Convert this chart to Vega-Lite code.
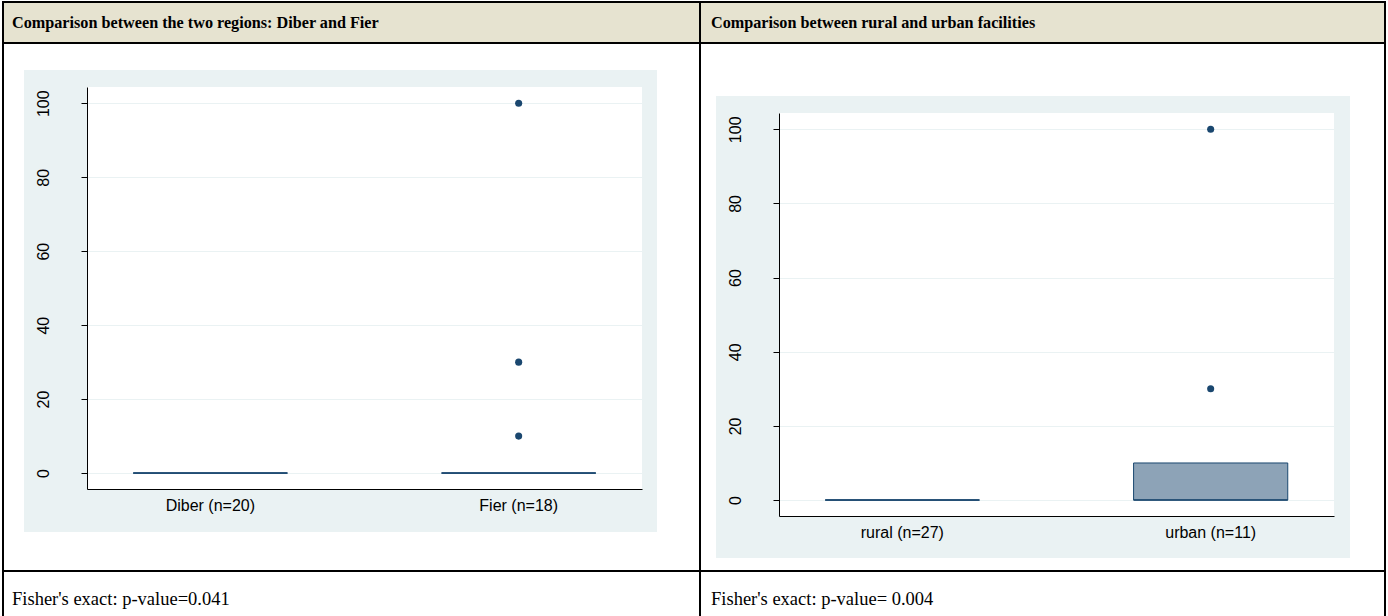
{
  "$schema": "https://vega.github.io/schema/vega-lite/v6.json",
  "background": "#EAF2F3",
  "padding": 0,
  "autosize": {"type": "pad"},
  "config": {
    "view": {"stroke": null},
    "concat": {"spacing": 0}
  },
  "datasets": {
    "one": [{"k": 1}],
    "texts": [
      {"cell": "headL", "text": "Comparison between the two regions: Diber and Fier"},
      {"cell": "headR", "text": "Comparison between rural and urban facilities"},
      {"cell": "footL", "text": "Fisher's exact: p-value=0.041"},
      {"cell": "footR", "text": "Fisher's exact: p-value= 0.004"}
    ],
    "boxes": [
      {"panel": "L", "group": "Diber (n=20)", "lower": 0, "q1": 0, "median": 0, "q3": 0, "upper": 0},
      {"panel": "L", "group": "Fier (n=18)", "lower": 0, "q1": 0, "median": 0, "q3": 0, "upper": 0},
      {"panel": "R", "group": "rural (n=27)", "lower": 0, "q1": 0, "median": 0, "q3": 0, "upper": 0},
      {"panel": "R", "group": "urban (n=11)", "lower": 0, "q1": 0, "median": 0, "q3": 10, "upper": 10}
    ],
    "outliers": [
      {"panel": "L", "group": "Fier (n=18)", "value": 10},
      {"panel": "L", "group": "Fier (n=18)", "value": 30},
      {"panel": "L", "group": "Fier (n=18)", "value": 100},
      {"panel": "R", "group": "urban (n=11)", "value": 30},
      {"panel": "R", "group": "urban (n=11)", "value": 100}
    ]
  },
  "spacing": 0,
  "hconcat": [
    {"width": 2, "height": 616, "data": {"name": "one"}, "mark": {"type": "rect", "color": "#FFFFFF"}, "encoding": {}},
    {"spacing": 0, "vconcat": [
      {"width": 2, "height": 1, "data": {"name": "one"}, "mark": {"type": "rect", "color": "#FFFFFF"}, "encoding": {}},
      {"width": 2, "height": 615, "data": {"name": "one"}, "mark": {"type": "rect", "color": "#000000"}, "encoding": {}}
    ]},
    {"spacing": 0, "vconcat": [
      {"width": 695, "height": 1, "data": {"name": "one"}, "mark": {"type": "rect", "color": "#FFFFFF"}, "encoding": {}},
      {"width": 695, "height": 2, "data": {"name": "one"}, "mark": {"type": "rect", "color": "#000000"}, "encoding": {}},
      {"width": 695, "height": 39, "view": {"fill": "#E6E3D0"}, "data": {"name": "texts"},
       "transform": [{"filter": "datum.cell == 'headL'"}],
       "mark": {"type": "text", "align": "left", "baseline": "middle", "font": "Liberation Serif", "fontSize": 16.2, "fontWeight": "bold", "color": "#000000"},
       "encoding": {
         "text": {"field": "text", "type": "nominal"},
         "x": {"field": "cell", "type": "nominal", "axis": null, "bandPosition": 0, "scale": {"type": "band", "paddingInner": 0, "paddingOuter": 0.01178}}
       }},
      {"width": 695, "height": 2, "data": {"name": "one"}, "mark": {"type": "rect", "color": "#000000"}, "encoding": {}},
      {"spacing": 0, "vconcat": [
        {"width": 695, "height": 26, "data": {"name": "one"}, "mark": {"type": "rect", "color": "#FFFFFF"}, "encoding": {}},
        {"spacing": 0, "hconcat": [
          {"width": 20, "height": 462, "data": {"name": "one"}, "mark": {"type": "rect", "color": "#FFFFFF"}, "encoding": {}},
          {"columns": 3, "bounds": "flush", "spacing": 0, "concat": [
            {"width": 63, "height": 17, "data": {"name": "one"}, "mark": {"type": "rect", "opacity": 0}, "encoding": {}},
            {"width": 555, "height": 17, "data": {"name": "one"}, "mark": {"type": "rect", "opacity": 0}, "encoding": {}},
            {"width": 15, "height": 17, "data": {"name": "one"}, "mark": {"type": "rect", "opacity": 0}, "encoding": {}},
            {"width": 63, "height": 402, "data": {"name": "one"}, "mark": {"type": "rect", "opacity": 0}, "encoding": {}},
            {"width": 555, "height": 402, "view": {"fill": "#FFFFFF"},
             "layer": [
               {"data": {"name": "boxes"}, "transform": [{"filter": "datum.panel == 'L'"}],
                "mark": {"type": "rule", "color": "#1A476F", "strokeWidth": 1},
                "encoding": {
                  "x": {"field": "group", "type": "nominal", "title": null,
                        "scale": {"type": "band", "domain": ["Diber (n=20)", "Fier (n=18)"], "paddingInner": 0.5, "paddingOuter": 0.15},
                        "axis": {"ticks": false, "tickSize": 0, "labelPadding": 8, "labelAngle": 0, "grid": false, "domainColor": "#000000", "domainWidth": 1, "labelFont": "Liberation Sans", "labelFontSize": 16, "labelColor": "#000000"}},
                  "y": {"field": "q3", "type": "quantitative", "title": null,
                        "scale": {"domain": [-4.3, 104.4], "nice": false, "zero": false},
                        "axis": {"values": [0, 20, 40, 60, 80, 100], "labelAngle": -90, "labelAlign": "center", "labelBaseline": "bottom", "labelPadding": 30, "tickSize": 6, "tickWidth": 1, "tickColor": "#000000", "domainColor": "#000000", "domainWidth": 1, "grid": true, "gridColor": "#EAF2F3", "gridWidth": 1, "labelFont": "Liberation Sans", "labelFontSize": 16, "labelColor": "#000000", "labelOverlap": false, "labelFlush": false}},
                  "y2": {"field": "upper"}
                }},
               {"data": {"name": "boxes"}, "transform": [{"filter": "datum.panel == 'L'"}],
                "mark": {"type": "rule", "color": "#1A476F", "strokeWidth": 1},
                "encoding": {
                  "x": {"field": "group", "type": "nominal", "title": null, "scale": {"type": "band", "domain": ["Diber (n=20)", "Fier (n=18)"], "paddingInner": 0.5, "paddingOuter": 0.15}},
                  "y": {"field": "lower", "type": "quantitative", "title": null, "scale": {"domain": [-4.3, 104.4], "nice": false, "zero": false}},
                  "y2": {"field": "q1"}
                }},
               {"data": {"name": "boxes"}, "transform": [{"filter": "datum.panel == 'L'"}],
                "mark": {"type": "rect", "fill": "#8DA3B7", "stroke": "#1A476F", "strokeWidth": 1},
                "encoding": {
                  "x": {"field": "group", "type": "nominal", "title": null, "scale": {"type": "band", "domain": ["Diber (n=20)", "Fier (n=18)"], "paddingInner": 0.5, "paddingOuter": 0.15}},
                  "y": {"field": "q1", "type": "quantitative", "title": null, "scale": {"domain": [-4.3, 104.4], "nice": false, "zero": false}},
                  "y2": {"field": "q3"}
                }},
               {"data": {"name": "boxes"}, "transform": [{"filter": "datum.panel == 'L'"}],
                "mark": {"type": "rect", "fillOpacity": 0, "stroke": "#1A476F", "strokeWidth": 1.5},
                "encoding": {
                  "x": {"field": "group", "type": "nominal", "title": null, "scale": {"type": "band", "domain": ["Diber (n=20)", "Fier (n=18)"], "paddingInner": 0.5, "paddingOuter": 0.15}},
                  "y": {"field": "median", "type": "quantitative", "title": null, "scale": {"domain": [-4.3, 104.4], "nice": false, "zero": false}},
                  "y2": {"field": "median"}
                }},
               {"data": {"name": "outliers"}, "transform": [{"filter": "datum.panel == 'L'"}],
                "mark": {"type": "point", "shape": "circle", "filled": true, "color": "#1A476F", "opacity": 1, "size": 50},
                "encoding": {
                  "x": {"field": "group", "type": "nominal", "title": null, "scale": {"type": "band", "domain": ["Diber (n=20)", "Fier (n=18)"], "paddingInner": 0.5, "paddingOuter": 0.15}},
                  "y": {"field": "value", "type": "quantitative", "title": null, "scale": {"domain": [-4.3, 104.4], "nice": false, "zero": false}}
                }}
             ]},
            {"width": 15, "height": 402, "data": {"name": "one"}, "mark": {"type": "rect", "opacity": 0}, "encoding": {}},
            {"width": 63, "height": 43, "data": {"name": "one"}, "mark": {"type": "rect", "opacity": 0}, "encoding": {}},
            {"width": 555, "height": 43, "data": {"name": "one"}, "mark": {"type": "rect", "opacity": 0}, "encoding": {}},
            {"width": 15, "height": 43, "data": {"name": "one"}, "mark": {"type": "rect", "opacity": 0}, "encoding": {}}
          ]},
          {"width": 42, "height": 462, "data": {"name": "one"}, "mark": {"type": "rect", "color": "#FFFFFF"}, "encoding": {}}
        ]},
        {"width": 695, "height": 38, "data": {"name": "one"}, "mark": {"type": "rect", "color": "#FFFFFF"}, "encoding": {}}
      ]},
      {"width": 695, "height": 2, "data": {"name": "one"}, "mark": {"type": "rect", "color": "#000000"}, "encoding": {}},
      {"width": 695, "height": 44, "view": {"fill": "#FFFFFF"}, "data": {"name": "texts"},
       "transform": [{"filter": "datum.cell == 'footL'"}],
       "mark": {"type": "text", "align": "left", "baseline": "middle", "font": "Liberation Serif", "fontSize": 18.5, "color": "#000000"},
       "encoding": {
         "text": {"field": "text", "type": "nominal"},
         "x": {"field": "cell", "type": "nominal", "axis": null, "bandPosition": 0, "scale": {"type": "band", "paddingInner": 0, "paddingOuter": 0.01178}},
         "y": {"field": "cell", "type": "nominal", "axis": null, "bandPosition": 0.614, "scale": {"type": "band", "paddingInner": 0, "paddingOuter": 0}}
       }}
    ]},
    {"spacing": 0, "vconcat": [
      {"width": 2, "height": 1, "data": {"name": "one"}, "mark": {"type": "rect", "color": "#FFFFFF"}, "encoding": {}},
      {"width": 2, "height": 615, "data": {"name": "one"}, "mark": {"type": "rect", "color": "#000000"}, "encoding": {}}
    ]},
    {"spacing": 0, "vconcat": [
      {"width": 683, "height": 1, "data": {"name": "one"}, "mark": {"type": "rect", "color": "#FFFFFF"}, "encoding": {}},
      {"width": 683, "height": 2, "data": {"name": "one"}, "mark": {"type": "rect", "color": "#000000"}, "encoding": {}},
      {"width": 683, "height": 39, "view": {"fill": "#E6E3D0"}, "data": {"name": "texts"},
       "transform": [{"filter": "datum.cell == 'headR'"}],
       "mark": {"type": "text", "align": "left", "baseline": "middle", "font": "Liberation Serif", "fontSize": 16.2, "fontWeight": "bold", "color": "#000000"},
       "encoding": {
         "text": {"field": "text", "type": "nominal"},
         "x": {"field": "cell", "type": "nominal", "axis": null, "bandPosition": 0, "scale": {"type": "band", "paddingInner": 0, "paddingOuter": 0.01508}}
       }},
      {"width": 683, "height": 2, "data": {"name": "one"}, "mark": {"type": "rect", "color": "#000000"}, "encoding": {}},
      {"spacing": 0, "vconcat": [
        {"width": 683, "height": 52, "data": {"name": "one"}, "mark": {"type": "rect", "color": "#FFFFFF"}, "encoding": {}},
        {"spacing": 0, "hconcat": [
          {"width": 15, "height": 462, "data": {"name": "one"}, "mark": {"type": "rect", "color": "#FFFFFF"}, "encoding": {}},
          {"columns": 3, "bounds": "flush", "spacing": 0, "concat": [
            {"width": 63, "height": 17, "data": {"name": "one"}, "mark": {"type": "rect", "opacity": 0}, "encoding": {}},
            {"width": 555, "height": 17, "data": {"name": "one"}, "mark": {"type": "rect", "opacity": 0}, "encoding": {}},
            {"width": 16, "height": 17, "data": {"name": "one"}, "mark": {"type": "rect", "opacity": 0}, "encoding": {}},
            {"width": 63, "height": 403, "data": {"name": "one"}, "mark": {"type": "rect", "opacity": 0}, "encoding": {}},
            {"width": 555, "height": 403, "view": {"fill": "#FFFFFF"},
             "layer": [
               {"data": {"name": "boxes"}, "transform": [{"filter": "datum.panel == 'R'"}],
                "mark": {"type": "rule", "color": "#1A476F", "strokeWidth": 1},
                "encoding": {
                  "x": {"field": "group", "type": "nominal", "title": null,
                        "scale": {"type": "band", "domain": ["rural (n=27)", "urban (n=11)"], "paddingInner": 0.5, "paddingOuter": 0.15},
                        "axis": {"ticks": false, "tickSize": 0, "labelPadding": 8, "labelAngle": 0, "grid": false, "domainColor": "#000000", "domainWidth": 1, "labelFont": "Liberation Sans", "labelFontSize": 16, "labelColor": "#000000"}},
                  "y": {"field": "q3", "type": "quantitative", "title": null,
                        "scale": {"domain": [-4.3, 104.4], "nice": false, "zero": false},
                        "axis": {"values": [0, 20, 40, 60, 80, 100], "labelAngle": -90, "labelAlign": "center", "labelBaseline": "bottom", "labelPadding": 30, "tickSize": 6, "tickWidth": 1, "tickColor": "#000000", "domainColor": "#000000", "domainWidth": 1, "grid": true, "gridColor": "#EAF2F3", "gridWidth": 1, "labelFont": "Liberation Sans", "labelFontSize": 16, "labelColor": "#000000", "labelOverlap": false, "labelFlush": false}},
                  "y2": {"field": "upper"}
                }},
               {"data": {"name": "boxes"}, "transform": [{"filter": "datum.panel == 'R'"}],
                "mark": {"type": "rule", "color": "#1A476F", "strokeWidth": 1},
                "encoding": {
                  "x": {"field": "group", "type": "nominal", "title": null, "scale": {"type": "band", "domain": ["rural (n=27)", "urban (n=11)"], "paddingInner": 0.5, "paddingOuter": 0.15}},
                  "y": {"field": "lower", "type": "quantitative", "title": null, "scale": {"domain": [-4.3, 104.4], "nice": false, "zero": false}},
                  "y2": {"field": "q1"}
                }},
               {"data": {"name": "boxes"}, "transform": [{"filter": "datum.panel == 'R'"}],
                "mark": {"type": "rect", "fill": "#8DA3B7", "stroke": "#1A476F", "strokeWidth": 1},
                "encoding": {
                  "x": {"field": "group", "type": "nominal", "title": null, "scale": {"type": "band", "domain": ["rural (n=27)", "urban (n=11)"], "paddingInner": 0.5, "paddingOuter": 0.15}},
                  "y": {"field": "q1", "type": "quantitative", "title": null, "scale": {"domain": [-4.3, 104.4], "nice": false, "zero": false}},
                  "y2": {"field": "q3"}
                }},
               {"data": {"name": "boxes"}, "transform": [{"filter": "datum.panel == 'R'"}],
                "mark": {"type": "rect", "fillOpacity": 0, "stroke": "#1A476F", "strokeWidth": 1.5},
                "encoding": {
                  "x": {"field": "group", "type": "nominal", "title": null, "scale": {"type": "band", "domain": ["rural (n=27)", "urban (n=11)"], "paddingInner": 0.5, "paddingOuter": 0.15}},
                  "y": {"field": "median", "type": "quantitative", "title": null, "scale": {"domain": [-4.3, 104.4], "nice": false, "zero": false}},
                  "y2": {"field": "median"}
                }},
               {"data": {"name": "outliers"}, "transform": [{"filter": "datum.panel == 'R'"}],
                "mark": {"type": "point", "shape": "circle", "filled": true, "color": "#1A476F", "opacity": 1, "size": 50},
                "encoding": {
                  "x": {"field": "group", "type": "nominal", "title": null, "scale": {"type": "band", "domain": ["rural (n=27)", "urban (n=11)"], "paddingInner": 0.5, "paddingOuter": 0.15}},
                  "y": {"field": "value", "type": "quantitative", "title": null, "scale": {"domain": [-4.3, 104.4], "nice": false, "zero": false}}
                }}
             ]},
            {"width": 16, "height": 403, "data": {"name": "one"}, "mark": {"type": "rect", "opacity": 0}, "encoding": {}},
            {"width": 63, "height": 42, "data": {"name": "one"}, "mark": {"type": "rect", "opacity": 0}, "encoding": {}},
            {"width": 555, "height": 42, "data": {"name": "one"}, "mark": {"type": "rect", "opacity": 0}, "encoding": {}},
            {"width": 16, "height": 42, "data": {"name": "one"}, "mark": {"type": "rect", "opacity": 0}, "encoding": {}}
          ]},
          {"width": 34, "height": 462, "data": {"name": "one"}, "mark": {"type": "rect", "color": "#FFFFFF"}, "encoding": {}}
        ]},
        {"width": 683, "height": 12, "data": {"name": "one"}, "mark": {"type": "rect", "color": "#FFFFFF"}, "encoding": {}}
      ]},
      {"width": 683, "height": 2, "data": {"name": "one"}, "mark": {"type": "rect", "color": "#000000"}, "encoding": {}},
      {"width": 683, "height": 44, "view": {"fill": "#FFFFFF"}, "data": {"name": "texts"},
       "transform": [{"filter": "datum.cell == 'footR'"}],
       "mark": {"type": "text", "align": "left", "baseline": "middle", "font": "Liberation Serif", "fontSize": 18.5, "color": "#000000"},
       "encoding": {
         "text": {"field": "text", "type": "nominal"},
         "x": {"field": "cell", "type": "nominal", "axis": null, "bandPosition": 0, "scale": {"type": "band", "paddingInner": 0, "paddingOuter": 0.01508}},
         "y": {"field": "cell", "type": "nominal", "axis": null, "bandPosition": 0.614, "scale": {"type": "band", "paddingInner": 0, "paddingOuter": 0}}
       }}
    ]},
    {"spacing": 0, "vconcat": [
      {"width": 2, "height": 1, "data": {"name": "one"}, "mark": {"type": "rect", "color": "#FFFFFF"}, "encoding": {}},
      {"width": 2, "height": 615, "data": {"name": "one"}, "mark": {"type": "rect", "color": "#000000"}, "encoding": {}}
    ]},
    {"width": 2, "height": 616, "data": {"name": "one"}, "mark": {"type": "rect", "color": "#FFFFFF"}, "encoding": {}}
  ]
}
